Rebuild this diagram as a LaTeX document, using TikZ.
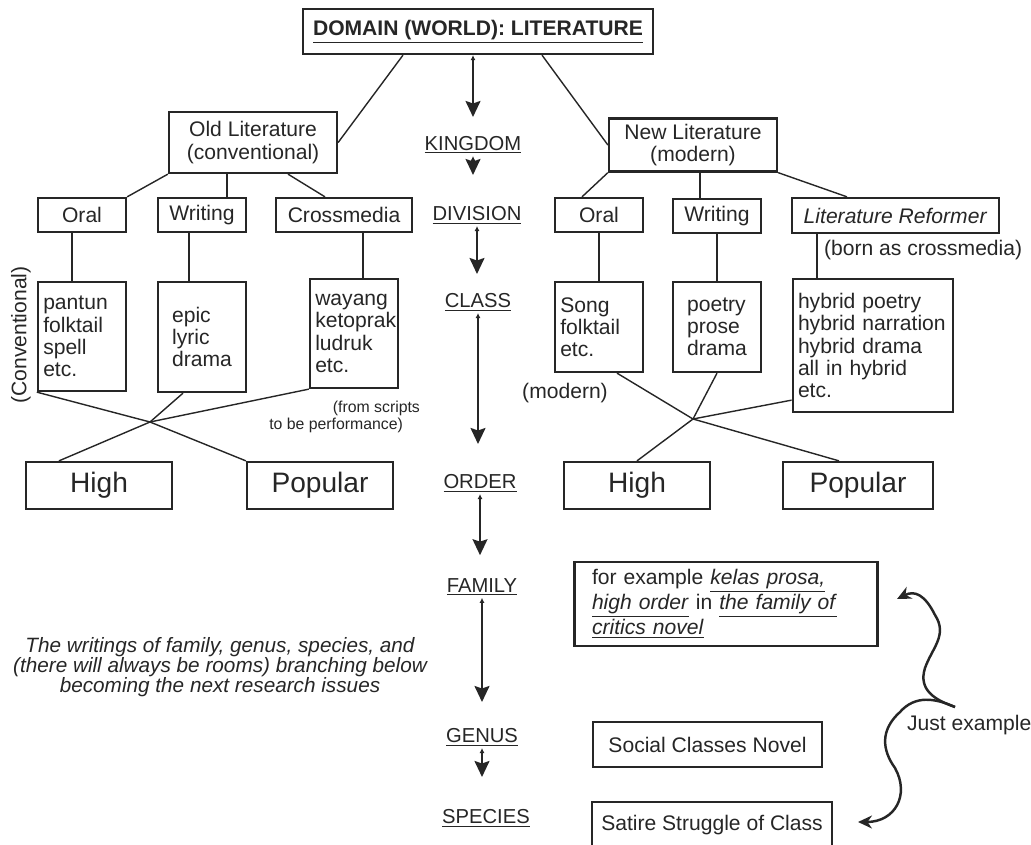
\documentclass[tikz,border=0pt]{standalone}
\usepackage{fontspec}
\setmainfont{Liberation Sans}
\usepackage{xcolor}
\usetikzlibrary{arrows.meta}

\begin{document}
\begin{tikzpicture}[
    color=black!85,
    box/.style={draw, line width=1.3pt, align=center, font=\fontsize{12}{13}\selectfont, inner sep=3pt},
    listbox/.style={box, align=left, minimum width=1.76cm, font=\fontsize{12}{12.6}\selectfont},
    bigbox/.style={draw, line width=1.3pt, font=\fontsize{16}{18}\selectfont, minimum width=2.92cm, minimum height=0.94cm},
    level/.style={font=\fontsize{11.5}{13}\selectfont, inner sep=1pt},
    note/.style={font=\fontsize{12}{13}\selectfont, inner sep=1pt},
    link/.style={line width=0.8pt},
    arrow/.style={{Latex[length=1mm,width=1mm]}-{Stealth[length=3.2mm,width=3mm,inset=0.5mm]}, line width=1.1pt},
    curly/.style={-{Stealth[length=2.8mm,width=2.6mm]}, line width=1.4pt}
]
\useasboundingbox (0,0) rectangle (20.62,-16.90);
% Domain and the two literatures
\node[box, minimum width=7cm, minimum height=0.9cm, font=\fontsize{12}{13}\selectfont\bfseries] (domain) at (9.56,-0.63) {\underline{DOMAIN (WORLD): LITERATURE}};
\node[box, minimum width=3.36cm, minimum height=1.22cm] (oldlit) at (5.06,-2.85) {Old Literature\\(conventional)};
\node[box, minimum width=3.36cm, minimum height=1.04cm] (newlit) at (13.86,-2.90) {New Literature\\(modern)};
% Old literature branches
\node[box, minimum width=1.76cm, minimum height=0.68cm] (oral1) at (1.64,-4.30) {Oral};
\node[box, minimum width=1.76cm, minimum height=0.68cm] (writ1) at (4.04,-4.30) {Writing};
\node[box, minimum width=2.72cm, minimum height=0.68cm] (cross1) at (6.88,-4.30) {Crossmedia};
\node[listbox, text width=1.55cm, minimum height=2.18cm] (pantun) at (1.64,-6.73) {pantun\\folktail\\spell\\etc.};
\node[listbox, minimum height=2.2cm] (epic) at (4.04,-6.74) {epic\\lyric\\drama};
\node[listbox, text width=1.55cm, minimum height=2.18cm] (wayang) at (7.08,-6.67) {wayang\\ketoprak\\ludruk\\etc.};
% New literature branches
\node[box, minimum width=1.76cm, minimum height=0.68cm] (oral2) at (11.98,-4.30) {Oral};
\node[box, minimum width=1.76cm, minimum height=0.68cm] (writ2) at (14.34,-4.32) {Writing};
\node[box, minimum width=4.14cm, minimum height=0.7cm] (reformer) at (17.91,-4.31) {\textit{Literature Reformer}};
\node[listbox, text width=1.55cm, minimum height=1.8cm] (song) at (11.98,-6.54) {Song\\folktail\\etc.};
\node[listbox, minimum height=1.8cm] (poetry) at (14.34,-6.54) {poetry\\prose\\drama};
\node[listbox, text width=3.0cm, minimum width=3.2cm, minimum height=2.66cm] (hybrid) at (17.46,-6.91) {hybrid poetry\\\mbox{hybrid narration}\\hybrid drama\\all in hybrid\\etc.};
% Orders
\node[bigbox] (high1) at (1.98,-9.71) {High};
\node[bigbox] (pop1) at (6.40,-9.71) {Popular};
\node[bigbox] (high2) at (12.74,-9.71) {High};
\node[bigbox, minimum width=3cm] (pop2) at (17.16,-9.71) {Popular};
% Lower examples
\node[box, align=left, inner xsep=10pt, text width=5.36cm, minimum height=1.68cm] (famex) at (14.52,-12.08) {for example \underline{\textit{kelas prosa,}}\\\underline{\textit{high order}} in \underline{\textit{the family of}}\\\underline{\textit{critics novel}}};
\node[box, minimum width=4.58cm, minimum height=0.9cm] (genex) at (14.15,-14.89) {Social Classes Novel};
\node[box, minimum width=4.8cm, minimum height=0.92cm] (specex) at (14.24,-16.5) {Satire Struggle of Class};
% Levels
\node[level] (kingdom) at (9.46,-2.90) {\underline{KINGDOM}};
\node[level] (division) at (9.54,-4.30) {\underline{DIVISION}};
\node[level] (class) at (9.56,-6.04) {\underline{CLASS}};
\node[level] (order) at (9.60,-9.66) {\underline{ORDER}};
\node[level] (family) at (9.64,-11.74) {\underline{FAMILY}};
\node[level] (genus) at (9.64,-14.74) {\underline{GENUS}};
\node[level] (species) at (9.72,-16.36) {\underline{SPECIES}};
% Side notes
\node[note, rotate=90] (conv) at (0.42,-6.70) {(Conventional)};
\node[note, anchor=east, align=right, font=\fontsize{9}{9.7}\selectfont] (scripts) at (8.10,-8.33) {(from scripts\hspace*{-0.34cm}\\to be performance)};
\node[note, anchor=west] (bornas) at (16.44,-5.0) {(born as crossmedia)};
\node[note] (modern) at (11.30,-7.86) {(modern)};
\node[note, align=center, font=\fontsize{11.8}{11.4}\selectfont\itshape] (research) at (4.40,-13.34) {The writings of family, genus, species, and\\(there will always be rooms) branching below\\becoming the next research issues};
\node[note, anchor=west] (justex) at (18.10,-14.50) {Just example};
\coordinate (j1) at (3.0,-8.44);
\coordinate (j2) at (13.86,-8.38);
\coordinate (cusp) at (19.10,-14.14);
\coordinate (uptip) at (17.94,-11.98);
\coordinate (lowtip) at (17.16,-16.44);
% Tree links
\draw[link] ([xshift=-1.5cm]domain.south) -- (oldlit.east);
\draw[link] ([xshift=1.28cm]domain.south) -- (newlit.west);
\draw[link] (oldlit.south west) -- (oral1.north east);
\draw[link] ([xshift=0.5cm]writ1.north) -- ([xshift=0.5cm]writ1.north |- oldlit.south);
\draw[link] ([xshift=0.7cm]oldlit.south) -- ([xshift=-0.38cm]cross1.north);
\draw[link] ([xshift=-0.2cm]oral1.south) -- ([xshift=-0.2cm]oral1.south |- pantun.north);
\draw[link] ([xshift=-0.26cm]writ1.south) -- ([xshift=-0.26cm]writ1.south |- epic.north);
\draw[link] ([xshift=0.38cm]cross1.south) -- ([xshift=0.38cm]cross1.south |- wayang.north);
\draw[link] (newlit.south west) -- ([xshift=-0.34cm]oral2.north);
\draw[link] ([xshift=-0.34cm]writ2.north) -- ([xshift=-0.34cm]writ2.north |- newlit.south);
\draw[link] (newlit.south east) -- ([xshift=-0.97cm]reformer.north);
\draw[link] (oral2) -- (song);
\draw[link] (writ2) -- (poetry);
\draw[link] ([xshift=-1.57cm]reformer.south) -- ([xshift=-1.57cm]reformer.south |- hybrid.north);
% Crossings to high and popular
\draw[link] (pantun.south west) -- (j1) -- (pop1.north west);
\draw[link] ([xshift=-0.38cm]epic.south) -- (j1) -- ([xshift=-0.8cm]high1.north);
\draw[link] (wayang.south west) -- (j1);
\draw[link] ([xshift=0.36cm]song.south) -- (j2) -- ([xshift=-0.38cm]pop2.north);
\draw[link] (poetry.south) -- (j2) -- (high2.north);
\draw[link] ([yshift=0.26cm]hybrid.south west) -- (j2);
% Level arrows
\draw[arrow, shorten >=0.34cm] (kingdom.north |- domain.south) -- (kingdom.north);
\draw[arrow, shorten >=0.58cm] (kingdom.south) -- (kingdom.south |- division.north);
\draw[arrow, shorten >=0.34cm] (division.south) -- (division.south |- class.north);
\draw[arrow, shorten >=0.56cm] (class.south) -- (class.south |- order.north);
\draw[arrow, shorten >=0.42cm] (order.south) -- (order.south |- family.north);
\draw[arrow, shorten >=0.48cm] (family.south) -- (family.south |- genus.north);
\draw[arrow, shorten >=0.6cm] (genus.south) -- (genus.south |- species.north);
% Just example
\draw[curly] (cusp) .. controls (18.70,-14.00) and (18.36,-13.80) .. (18.50,-13.36) .. controls (18.64,-12.96) and (18.96,-12.70) .. (18.70,-12.30) .. controls (18.50,-11.90) and (18.30,-11.80) .. (uptip);
\draw[curly] (cusp) .. controls (18.70,-13.96) and (18.30,-13.90) .. (18.00,-14.24) .. controls (17.60,-14.60) and (17.64,-15.00) .. (17.90,-15.36) .. controls (18.20,-15.90) and (17.90,-16.44) .. (lowtip);
\end{tikzpicture}
\end{document}
